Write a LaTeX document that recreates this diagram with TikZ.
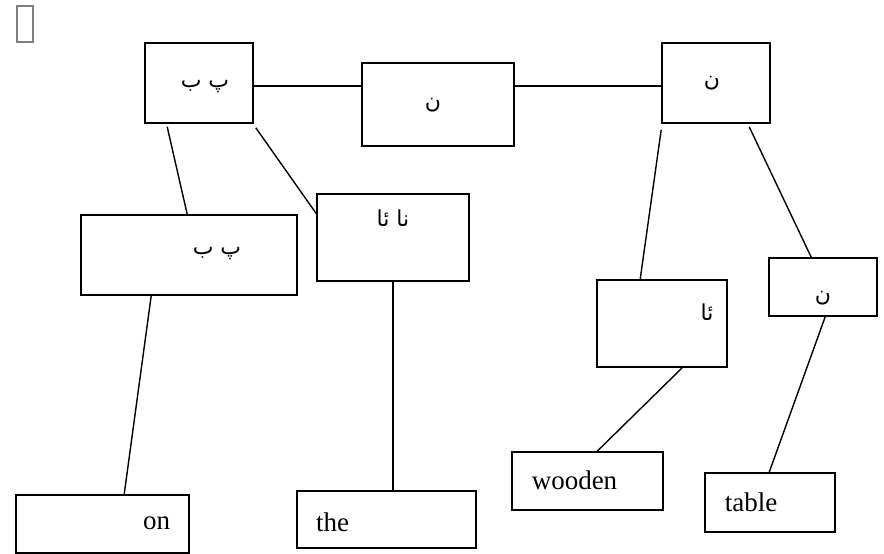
\documentclass[tikz,border=0pt]{standalone}
\usepackage{fontspec}
\setmainfont{Liberation Serif}
\newfontfamily\arabicfont[Script=Arabic]{DejaVu Sans}
\TeXXeTstate=1
\begin{document}
\begin{tikzpicture}[x=1pt,y=-1pt,
  box/.style={draw, line width=1.6pt, inner sep=0pt, rectangle},
  lab/.style={inner sep=0pt, font=\fontsize{27}{30}\selectfont},
  arlab/.style={inner sep=0pt, font=\fontsize{22}{24}\selectfont\arabicfont},
  conn/.style={line width=1.4pt}]
\useasboundingbox (0,0) rectangle (884,554);
% missing-glyph box
\draw[gray, line width=1.2pt] (17,6) rectangle (33,42);
% boxes
\node[box, minimum width=108, minimum height=80,
  label={[arlab, xshift=6, yshift=-4]center:\beginR پ ب\endR}] (A) at (199,83) {};
\node[box, minimum width=152, minimum height=83,
  label={[arlab, xshift=-5, yshift=-1]center:\beginR ن\endR}] (B) at (438,104.5) {};
\node[box, minimum width=108, minimum height=80,
  label={[arlab, xshift=-4, yshift=0]center:\beginR ن\endR}] (C) at (716,83) {};
\node[box, minimum width=216, minimum height=80,
  label={[arlab, xshift=28, yshift=1]center:\beginR پ ب\endR}] (D) at (189,255) {};
\node[box, minimum width=152, minimum height=87,
  label={[arlab, xshift=0, yshift=19]center:\beginR نا ئا\endR}] (E) at (393,237.5) {};
\node[box, minimum width=130, minimum height=87,
  label={[arlab, xshift=45, yshift=11]center:\beginR ئا\endR}] (F) at (662,323.5) {};
\node[box, minimum width=108, minimum height=58,
  label={[arlab, xshift=0, yshift=-11]center:\beginR ن\endR}] (G) at (823,287) {};
\node[box, minimum width=173, minimum height=58,
  label={[lab, xshift=54, yshift=1]center:on}] (on) at (102.5,524) {};
\node[box, minimum width=179, minimum height=57,
  label={[lab, xshift=-54, yshift=-3]center:the}] (the) at (386.5,519.5) {};
\node[box, minimum width=151, minimum height=58,
  label={[lab, xshift=-13, yshift=1]center:wooden}] (wooden) at (587.5,481) {};
\node[box, minimum width=130, minimum height=59,
  label={[lab, xshift=-19, yshift=0]center:table}] (table) at (770,502.5) {};
% connectors
\draw[conn] ([yshift=-3pt]A.east) -- ([yshift=-3pt]A.east -| B.west);
\draw[conn] ([yshift=-3pt]C.west -| B.east) -- ([yshift=-3pt]C.west);
\draw[conn] ([xshift=23pt,yshift=-3pt]A.south west) -- ([xshift=107pt]D.north west);
\draw[conn] ([xshift=2pt,yshift=-4pt]A.south east) -- ([yshift=24pt]E.west);
\draw[conn] (E.south) -- (E.south |- the.north);
\draw[conn] ([xshift=71pt]D.south west) -- ([xshift=109pt]on.north west);
\draw[conn] ([yshift=-6pt]C.south west) -- ([xshift=44pt]F.north west);
\draw[conn] ([xshift=88pt,yshift=-3pt]C.south west) -- ([xshift=43pt]G.north west);
\draw[conn] ([xshift=86pt]F.south west) -- ([xshift=86pt]wooden.north west);
\draw[conn] ([xshift=57pt]G.south west) -- ([xshift=65pt]table.north west);
\end{tikzpicture}
\end{document}
